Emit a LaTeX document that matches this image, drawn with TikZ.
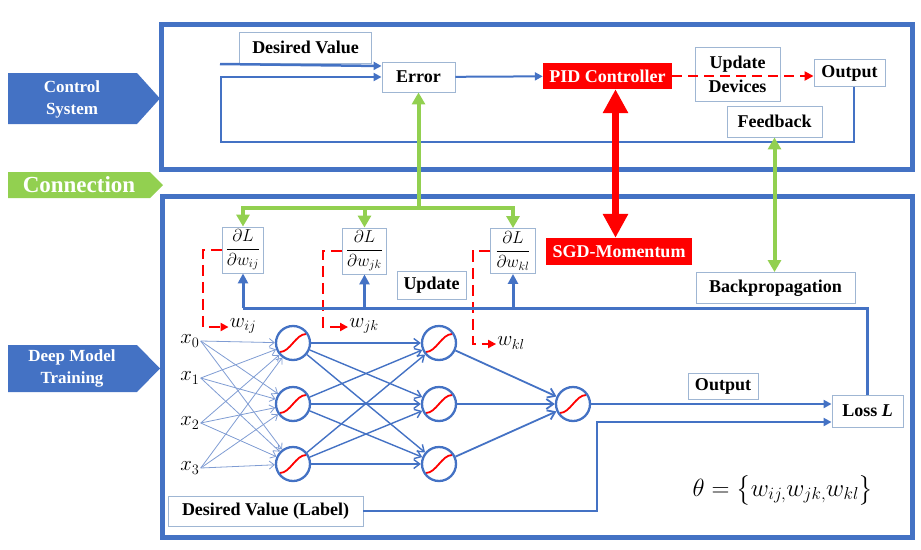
\documentclass[tikz,border=0pt]{standalone}
\usepackage{fontspec}
\setmainfont{Liberation Serif}
\usepackage{amsmath}
\usetikzlibrary{arrows.meta,calc}
\definecolor{cblue}{HTML}{4472C4}
\definecolor{cgreen}{HTML}{92D050}
\definecolor{cred}{HTML}{FF0000}
\definecolor{boxc}{HTML}{9FB6D3}
\definecolor{lblue}{HTML}{7F9CD3}
\begin{document}
\begin{tikzpicture}[x=1pt,y=-1pt,
 box/.style={draw=boxc, line width=0.9pt, fill=white, inner sep=0pt, font=\bfseries\fontsize{18}{24}\selectfont, align=center},
 redbox/.style={fill=cred, text=white, inner sep=0pt, font=\bfseries\fontsize{18}{22}\selectfont},
 panel/.style={draw=cblue, line width=5pt},
 tag/.style={text=white, font=\bfseries\fontsize{17}{22}\selectfont, align=center},
 neuron/.style={circle, draw=cblue, line width=2.3pt, fill=white, minimum size=34pt, inner sep=0pt,
   path picture={\draw[cred, line width=1.8pt] ($(path picture bounding box.center)+(-13,9)$) .. controls +(10,0) and +(-10,0) .. +(26,-18);}},
 mlab/.style={inner sep=1pt, font=\fontsize{22}{24}\selectfont},
 inl/.style={draw=lblue, line width=0.8pt, -{Straight Barb[length=5pt,width=8pt]}},
 hl/.style={draw=cblue, line width=1.4pt, -{Straight Barb[length=6pt,width=9pt]}},
 ol/.style={draw=cblue, line width=1.8pt, -{Straight Barb[length=7pt,width=10pt]}},
 tarr/.style={draw=cblue, line width=2pt, -{Triangle[length=8pt,width=8pt]}},
 garr/.style={draw=cgreen, line width=4pt, -{Triangle[length=12pt,width=13pt]}},
 bbus/.style={draw=cblue, line width=3pt},
 barr/.style={draw=cblue, line width=3pt, -{Triangle[length=10pt,width=10pt]}},
 rdash/.style={draw=cred, line width=2.8pt, dash pattern=on 11pt off 6pt, -{Triangle[length=8pt,width=8pt]}},
 dfrac/.style={box, font=\fontsize{17}{19}\selectfont},
]
\useasboundingbox (0,0) rectangle (921,549);

% panels
\draw[panel] (161.5,24) rectangle (912,169);
\draw[panel] (162.5,196) rectangle (912,537);

% side tags
\fill[cblue] (8,73) -- (137,73) -- (160,98.5) -- (137,124) -- (8,124) -- cycle;
\node[tag] (cs) at (72,99) {Control\\System};
\fill[cgreen] (8,172) -- (150,172) -- (163,185) -- (150,198) -- (8,198) -- cycle;
\node[tag, font=\bfseries\fontsize{23}{25}\selectfont] (cn) at (79,185) {Connection};
\fill[cblue] (8,345) -- (137,345) -- (160,368.5) -- (137,392) -- (8,392) -- cycle;
\node[tag] (dm) at (72,368) {Deep Model\\Training};

% control system nodes
\node[box, minimum width=132pt, minimum height=31pt] (dv) at (305.5,47.5) {Desired Value};
\node[box, minimum width=73pt, minimum height=30pt] (err) at (418.5,77) {Error};
\node[redbox, minimum width=129pt, minimum height=26pt] (pid) at (607.5,76) {PID Controller};
\node[box, minimum width=85pt, minimum height=54pt] (upd) at (737.5,74) {Update\\Devices};
\node[box, minimum width=71pt, minimum height=27pt] (out) at (849.5,73) {Output};
\node[box, minimum width=95pt, minimum height=31pt] (fb) at (774.5,121.5) {Feedback};

\coordinate (dvin) at (220,64);
\coordinate (lb) at (221,142);
\draw[tarr, line width=2.5pt] (dvin) -- ([yshift=11pt]err.west);
\draw[tarr] ([xshift=4pt]out.south) |- (lb) |- (err.west);
\draw[tarr] (err) -- (pid);
\draw[draw=cred, line width=2.5pt, dash pattern=on 10pt off 6pt, -{Triangle[length=9pt,width=9pt]}] (pid.east) -- (pid.east -| out.west);

% deep model nodes
\node[redbox, minimum width=146pt, minimum height=27pt] (sgd) at (619,251.5) {SGD-Momentum};
\node[box, minimum width=159pt, minimum height=31pt] (bp) at (775.5,288) {Backpropagation};
\node[dfrac, minimum width=41pt, minimum height=46pt] (d1) at (243,250) {$\dfrac{\partial L}{\partial w_{ij}}$};
\node[dfrac, minimum width=44pt, minimum height=46pt] (d2) at (364.5,251) {$\dfrac{\partial L}{\partial w_{jk}}$};
\node[dfrac, minimum width=45pt, minimum height=45pt] (d3) at (513,251) {$\dfrac{\partial L}{\partial w_{kl}}$};
\node[box, minimum width=69pt, minimum height=28pt] (updb) at (431.5,285) {Update};
\node[box, minimum width=70pt, minimum height=26pt] (outl) at (723,386) {Output};
\node[box, minimum width=71pt, minimum height=32pt] (loss) at (867.5,411) {Loss \textit{L}};
\node[box, minimum width=195pt, minimum height=30pt] (dvl) at (265.5,511) {Desired Value (Label)};
\node[mlab, font=\fontsize{24}{26}\selectfont] (theta) at (783,490) {$\theta=\big\{w_{ij,}w_{jk,}w_{kl}\big\}$};

% network
\node[mlab] (x0) at (190,341) {$x_0$};
\node[mlab] (x1) at (190,378) {$x_1$};
\node[mlab] (x2) at (190,423) {$x_2$};
\node[mlab] (x3) at (190,468) {$x_3$};
\node[neuron] (a1) at (293,343) {};
\node[neuron] (a2) at (293,404) {};
\node[neuron] (a3) at (293,464) {};
\node[neuron] (b1) at (439,343) {};
\node[neuron] (b2) at (439,404) {};
\node[neuron] (b3) at (439,464) {};
\node[neuron] (o) at (573,404) {};
\foreach \i in {0,...,3} \foreach \j in {1,2,3} \draw[inl] (x\i.east) -- (a\j);
\foreach \i in {1,2,3} \foreach \j in {1,2,3} \draw[hl] (a\i) -- (b\j);
\foreach \i in {1,2,3} \draw[ol] (b\i) -- (o);

% weights labels
\node[mlab, font=\fontsize{21}{22}\selectfont] (w1) at (243,326) {$w_{ij}$};
\node[mlab, font=\fontsize{21}{22}\selectfont] (w2) at (364,326) {$w_{jk}$};
\node[mlab, font=\fontsize{21}{22}\selectfont] (w3) at (511,343) {$w_{kl}$};
\coordinate (r1) at (203,327);
\coordinate (r2) at (323,327);
\coordinate (r3) at (473,344);
\draw[rdash] (d1.west) -| (r1) -- (r1 -| w1.west);
\draw[rdash] (d2.west) -| (r2) -- (r2 -| w2.west);
\draw[rdash] (d3.west) -| (r3) -- (r3 -| w3.west);

% gradient bus
\coordinate (yl) at (0,308);
\draw[bbus] (loss.north) -- (loss.north |- yl) -- (d1.south |- yl);
\draw[barr] (d1.south |- yl) -- (d1.south);
\draw[barr] (d2.south |- yl) -- (d2.south);
\draw[barr] (d3.south |- yl) -- (d3.south);

% output to loss
\coordinate (dt) at (597,422);
\draw[tarr, line width=2.5pt] (o) -- (o -| loss.west);
\draw[tarr, line width=2.5pt] (dvl.east) -| (dt) -- (dt -| loss.west);

% connections
\coordinate (gb) at (418.5,208);
\draw[garr] (gb) -- (err.south);
\draw[garr] (gb) -| (d1.north);
\draw[garr] (gb) -| (d2.north);
\draw[garr] (gb) -| (d3.north);
\draw[draw=cgreen, line width=4pt, {Triangle[length=12pt,width=13pt]}-{Triangle[length=12pt,width=13pt]}] (fb.south) -- (fb.south |- bp.north);
\draw[draw=cred, line width=7pt, {Triangle[length=24pt,width=24pt]}-{Triangle[length=24pt,width=24pt]}] ([xshift=8pt]pid.south) -- ([xshift=8pt]pid.south |- sgd.north);
\end{tikzpicture}
\end{document}
